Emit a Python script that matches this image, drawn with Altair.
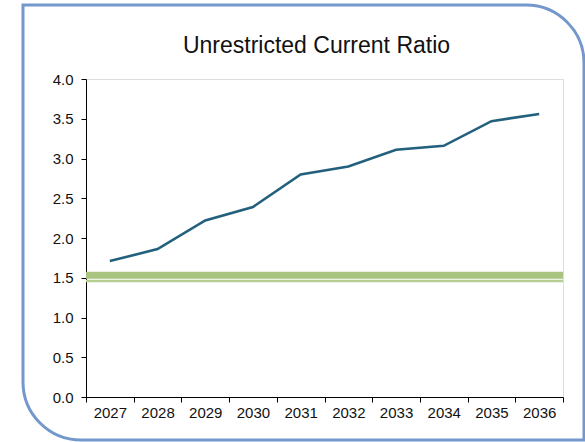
import altair as alt
import pandas as pd

years = [2027, 2028, 2029, 2030, 2031, 2032, 2033, 2034, 2035, 2036]
ratio = [1.71, 1.86, 2.22, 2.39, 2.80, 2.90, 3.11, 3.16, 3.47, 3.56]
target_band = [1.53]      # thick green target line
target_under = [1.458]    # thin green line under it
x_ticks = [2026.5 + i for i in range(11)]
y_ticks = [0, 0.5, 1.0, 1.5, 2.0, 2.5, 3.0, 3.5, 4.0]

W, H = 477, 318
FONT = "Liberation Sans"

df = pd.DataFrame({"year": years, "ratio": ratio})

x_enc = alt.X(
    "year:Q",
    scale=alt.Scale(domain=[2026.5, 2036.5], nice=False, zero=False),
    axis=alt.Axis(
        values=x_ticks,
        labelExpr="datum.value < 2036 ? format(datum.value + 0.5, 'd') : ''",
        labelOffset=W / 20,
        labelFlush=False,
        labelOverlap=False,
        labelBound=False,
        title=None,
        grid=False,
        domainColor="#000000",
        tickColor="#000000",
        tickSize=5,
        labelFont=FONT,
        labelFontSize=15,
        labelColor="#111111",
        labelPadding=3,
    ),
)
y_enc = alt.Y(
    "ratio:Q",
    scale=alt.Scale(domain=[0, 4], nice=False),
    axis=alt.Axis(
        values=y_ticks,
        format=".1f",
        title=None,
        grid=False,
        domainColor="#000000",
        tickColor="#000000",
        tickSize=5,
        labelFont=FONT,
        labelFontSize=15,
        labelColor="#111111",
        labelPadding=8,
        labelOverlap=False,
        labelFlush=False,
    ),
)

line = alt.Chart(df).mark_line(color="#22607D", strokeWidth=2.6).encode(
    x=x_enc, y=y_enc
)

band = alt.Chart(pd.DataFrame({"ratio": target_band})).mark_rule(
    color="#A9C47F", strokeWidth=7
).encode(y=y_enc)

under = alt.Chart(pd.DataFrame({"ratio": target_under})).mark_rule(
    color="#B8CF94", strokeWidth=2.5
).encode(y=y_enc)

frame = alt.Chart(pd.DataFrame({"k": [0]})).mark_rect(
    fill=None,
    stroke="#7398CC",
    strokeWidth=3,
    cornerRadiusTopRight=58,
    cornerRadiusBottomLeft=58,
).encode(
    x=alt.value(-63),
    x2=alt.value(W + 21),
    y=alt.value(-74),
    y2=alt.value(H + 43),
)

chart = (
    alt.layer(line, band, under, frame)
    .properties(
        width=W,
        height=H,
        title=alt.TitleParams(
            "Unrestricted Current Ratio",
            font=FONT,
            fontSize=23,
            fontWeight="normal",
            color="#111111",
            anchor="middle",
            frame="group",
            offset=-54,
            dx=-8,
        ),
        autosize=alt.AutoSizeParams(type="none"),
        padding={"left": 86, "top": 79, "right": 22, "bottom": 45},
    )
    .configure_view(stroke=None)
    .configure(background="white")
)

chart.save("out.html", embed_options={"renderer": "svg", "actions": False})
